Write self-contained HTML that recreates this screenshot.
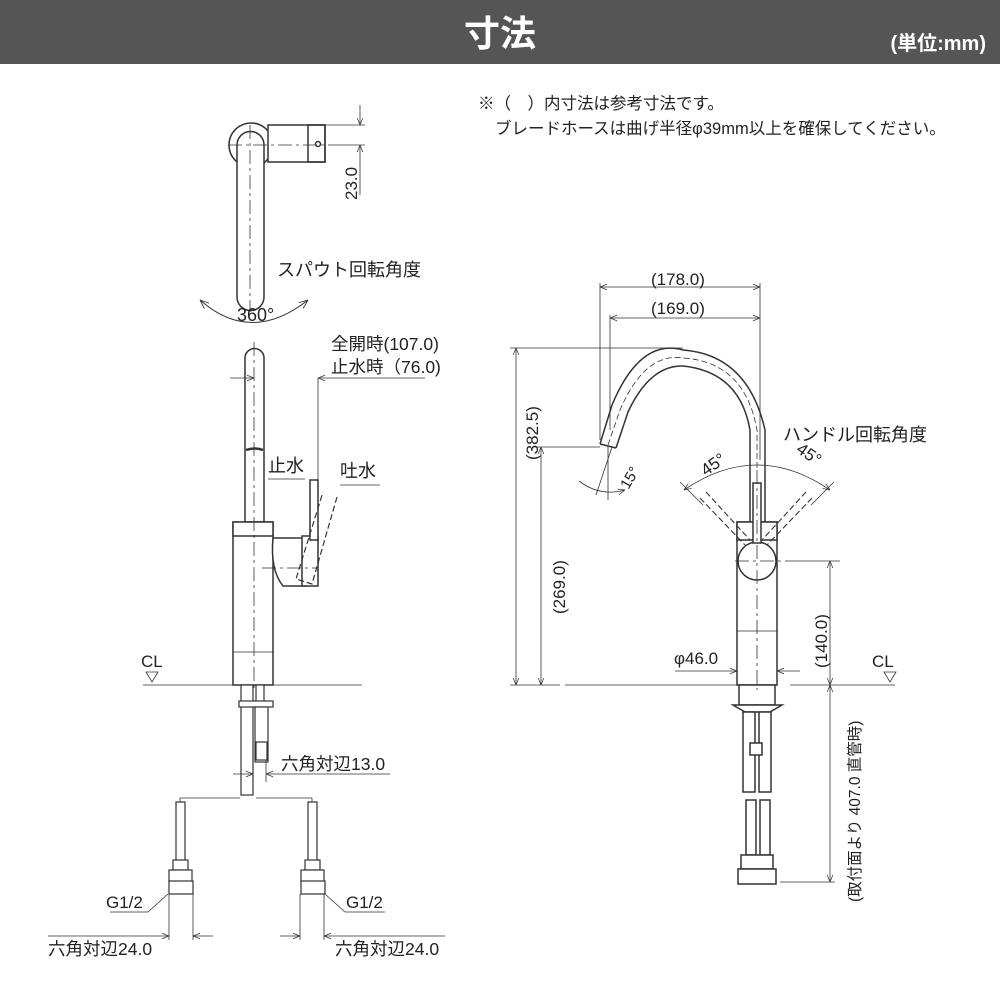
<!DOCTYPE html>
<html><head><meta charset="utf-8"><style>
body{margin:0;background:#fff}
svg{display:block}
text{font-family:"Liberation Sans","Noto Sans CJK JP",sans-serif;fill:#222}
</style></head><body>
<svg width="1000" height="1000" viewBox="0 0 1000 1000" xmlns="http://www.w3.org/2000/svg">
<defs>
<marker id="a" viewBox="0 0 10 10" refX="10" refY="5" markerWidth="9" markerHeight="9" orient="auto-start-reverse"><path d="M0,1 L10,5 L0,9" fill="none" stroke="#333" stroke-width="1"/></marker>
</defs>
<rect x="0" y="0" width="1000" height="64" fill="#555"/>
<text x="500" y="46" font-size="36" font-weight="bold" text-anchor="middle" style="fill:#fff">寸法</text>
<text x="986" y="50" font-size="20" font-weight="bold" text-anchor="end" style="fill:#fff">(単位:mm)</text>
<text x="478" y="109" font-size="16.5">※（　）内寸法は参考寸法です。</text>
<text x="495" y="134" font-size="16.5">ブレードホースは曲げ半径φ39mm以上を確保してください。</text>

<g fill="none" stroke="#333" stroke-width="1.5">
<circle cx="251" cy="145" r="22"/>
<rect x="268" y="125" width="57" height="37" fill="#fff"/>
<rect x="308" y="125" width="17" height="37"/>
<circle cx="318" cy="144" r="2.5"/>
<path d="M237,145 A13.5,13.5 0 0 1 264,145 L264,297 A13.5,13.5 0 0 1 237,297 Z" fill="#fff"/>
<path d="M200,300 Q251,345 308,300" marker-start="url(#a)" marker-end="url(#a)" stroke-width="1"/>
</g>
<g stroke="#333" stroke-width="0.8" fill="none">
<path d="M250,125 V312 M228,145 H330" stroke-dasharray="14,4,3,4"/>
<path d="M268,125 H365 M330,145 H365"/>
<path d="M360,105 V125" marker-end="url(#a)"/><path d="M360,195 V145" marker-end="url(#a)"/>
</g>
<text x="357" y="200" font-size="17" transform="rotate(-90 357 200)">23.0</text>
<text x="277" y="276" font-size="18">スパウト回転角度</text>
<text x="237" y="321" font-size="18">360°</text>

<g fill="#fff" stroke="#333" stroke-width="1.5">
<path d="M245,358 A9.5,9.5 0 0 1 264,358 V522 H245 Z"/>
<rect x="233" y="522" width="40" height="163"/>
<rect x="233" y="522" width="40" height="14"/>
<path d="M273,538 H306 V586 H283 Q270,570 273,538 Z"/>
<rect x="302" y="536" width="16" height="50"/>
<rect x="310" y="480" width="8" height="60"/>
<path d="M246,450 Q255,447 263,450" stroke-width="2.5" fill="none"/>
</g>
<g stroke="#333" stroke-width="1.2" stroke-dasharray="6,3" fill="none">
<path d="M337,497 L312,584 L296,579 L323,492"/>
</g>
<g stroke="#333" stroke-width="0.8" fill="none">
<path d="M254,342 V690 M262,568 H318" stroke-dasharray="14,4,3,4"/>
<path d="M233,652 H273"/>
<path d="M143,685 H362"/>
<path d="M230,378 H254" marker-end="url(#a)"/><path d="M425,378 H318" marker-end="url(#a)"/>
<path d="M318,378 V480"/>
<path d="M268,479 H305 M340,485 H380"/>
<path d="M146,672 H158 L152,682 Z"/>
</g>
<text x="331" y="350" font-size="17.5">全開時(107.0)</text>
<text x="331" y="373" font-size="17.5">止水時（76.0)</text>
<text x="268" y="472" font-size="18">止水</text>
<text x="340" y="477" font-size="18">吐水</text>
<text x="141" y="667" font-size="17">CL</text>

<g fill="#fff" stroke="#333" stroke-width="1.2">
<rect x="241" y="685" width="12" height="110"/>
<rect x="256" y="685" width="8" height="20"/>
<rect x="239" y="701" width="34" height="6"/>
<rect x="255" y="707" width="13" height="55"/>
<rect x="256" y="742" width="11" height="18"/>
<rect x="176" y="802" width="9" height="60"/>
<rect x="173" y="860" width="15" height="10"/>
<rect x="169" y="870" width="23" height="12"/>
<rect x="169" y="881" width="24" height="13"/>
<rect x="308" y="802" width="9" height="60"/>
<rect x="305" y="860" width="15" height="10"/>
<rect x="301" y="870" width="23" height="12"/>
<rect x="301" y="881" width="24" height="13"/>
</g>
<g stroke="#333" stroke-width="0.8" fill="none">
<path d="M180,798 H240 M256,798 H312 M180,798 V802 M312,798 V802"/>
<path d="M253,760 V782 M266,760 V782"/>
<path d="M233,774 H253" marker-end="url(#a)"/><path d="M390,774 H266" marker-end="url(#a)"/>
<path d="M169,894 V940 M193,894 V940 M300,894 V940 M324,894 V940"/>
<path d="M48,936 H169" marker-end="url(#a)"/><path d="M213,936 H193" marker-end="url(#a)"/>
<path d="M280,936 H300" marker-end="url(#a)"/><path d="M445,936 H324" marker-end="url(#a)"/>
<path d="M110,912 H148 L168,894 M385,912 H345 L325,894"/>
</g>
<text x="281" y="770" font-size="17.5">六角対辺13.0</text>
<text x="106" y="908" font-size="17">G1/2</text>
<text x="346" y="908" font-size="17">G1/2</text>
<text x="48" y="955" font-size="17.5">六角対辺24.0</text>
<text x="335" y="955" font-size="17.5">六角対辺24.0</text>

<g fill="none" stroke="#333" stroke-width="1.5">
<path d="M600,444 L612,405 Q640,338 683,350 Q748,355 765,430 V522"/>
<path d="M616,448 L628,412 Q650,365 683,366 Q740,372 750,430 V522"/>
<path d="M600,444 L616,448"/>
</g>
<path d="M608,445 L620,410 Q645,352 683,358 Q745,362 757,430 V470" fill="none" stroke="#333" stroke-width="0.8" stroke-dasharray="6,3"/>
<g fill="#fff" stroke="#333" stroke-width="1.5">
<rect x="737" y="522" width="40" height="163"/>
<rect x="737" y="522" width="40" height="18"/>
<circle cx="757" cy="561" r="19"/>
<rect x="753" y="483" width="8" height="60"/>
<rect x="739" y="685" width="36" height="20"/>
<path d="M733,705 H782 L770,712 H745 Z"/>
<rect x="743" y="712" width="12" height="80"/><rect x="759" y="712" width="12" height="80"/>
<rect x="750" y="743" width="12" height="12"/>
<rect x="746" y="800" width="10" height="55"/><rect x="760" y="800" width="10" height="55"/>
<rect x="741" y="855" width="32" height="14"/>
<rect x="738" y="869" width="38" height="15"/>
</g>
<g stroke="#333" stroke-width="1.1" fill="none" stroke-dasharray="6,3">
<path d="M700,498 L745,545 M706,492 L750,540 M812,498 L767,545 M806,492 L762,540"/>
</g>
<g stroke="#333" stroke-width="0.8" fill="none">
<path d="M757,470 V690 M735,561 H790" stroke-dasharray="14,4,3,4"/>
<path d="M737,631 H777"/>
<path d="M565,685 H760 M790,685 H895"/>
<path d="M600,440 V283 M610,430 V315 M760,460 V283"/>
<path d="M600,287 H760" marker-start="url(#a)" marker-end="url(#a)"/>
<path d="M610,318 H760" marker-start="url(#a)" marker-end="url(#a)"/>
<path d="M510,348 H683"/>
<path d="M516,348 V685" marker-start="url(#a)" marker-end="url(#a)"/>
<path d="M510,685 H560"/>
<path d="M536,447 H600"/>
<path d="M541,447 V685" marker-start="url(#a)" marker-end="url(#a)"/>
<path d="M790,561 H840"/>
<path d="M830,561 V685" marker-start="url(#a)" marker-end="url(#a)"/>
<path d="M830,685 V882" marker-start="url(#a)" marker-end="url(#a)"/>
<path d="M780,882 H835"/>
<path d="M675,671 H737" marker-end="url(#a)"/><path d="M800,671 H777" marker-end="url(#a)"/>
<path d="M684,490 Q757,440 830,490" marker-start="url(#a)" marker-end="url(#a)"/>
<path d="M680,482 L703,505 M834,482 L811,505"/>
<path d="M579,481 Q600,497 625,490" marker-end="url(#a)"/>
<path d="M608,446 V500 M612,447 L596,495"/>
<path d="M884,672 H896 L890,682 Z"/>
</g>
<text x="651" y="285" font-size="17">(178.0)</text>
<text x="651" y="314" font-size="17">(169.0)</text>
<text x="538" y="460" font-size="17" transform="rotate(-90 538 460)">(382.5)</text>
<text x="565" y="614" font-size="17" transform="rotate(-90 565 614)">(269.0)</text>
<text x="827" y="668" font-size="17" transform="rotate(-90 827 668)">(140.0)</text>
<text x="860" y="902" font-size="15.5" transform="rotate(-90 860 902)">(取付面より 407.0 直管時)</text>
<text x="674" y="664" font-size="17">φ46.0</text>
<text x="872" y="667" font-size="17">CL</text>
<text x="783" y="441" font-size="18">ハンドル回転角度</text>
<text x="700" y="472" font-size="17" transform="rotate(-35 710 465)">45°</text>
<text x="790" y="456" font-size="17" transform="rotate(35 800 462)">45°</text>
<text x="618" y="488" font-size="15" transform="rotate(-60 625 480)">15°</text>
</svg>
</body></html>
